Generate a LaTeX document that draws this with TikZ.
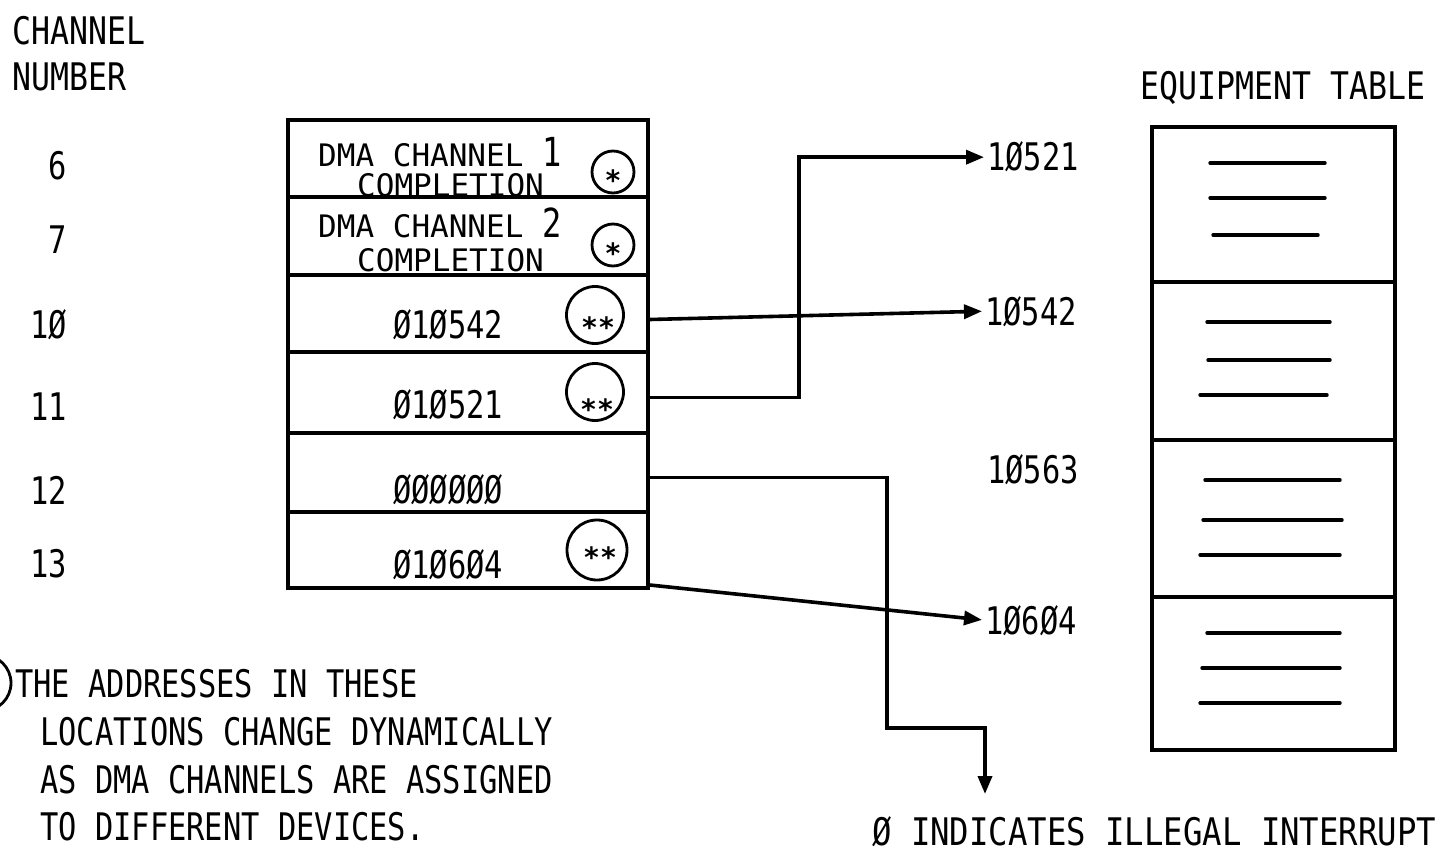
\documentclass[tikz,border=0pt]{standalone}
\usepackage{fontspec}
\usetikzlibrary{arrows.meta}
\newfontfamily\monoA[FakeStretch=0.80]{DejaVu Sans Mono}
\newfontfamily\monoH[FakeStretch=0.83]{DejaVu Sans Mono}
\newfontfamily\monoB[FakeStretch=1.0]{DejaVu Sans Mono}
\newfontfamily\monoC[FakeStretch=0.85]{DejaVu Sans Mono}
\newfontfamily\starfont{DejaVu Sans Mono Bold}
\begin{document}
\begin{tikzpicture}[x=1pt,y=-1pt,
  txt/.style={inner sep=0pt, font=\monoA\fontsize{38}{44}\selectfont},
  head/.style={inner sep=0pt, font=\monoH\fontsize{38}{44}\selectfont},
  small/.style={inner sep=0pt, font=\monoB\fontsize{31}{36}\selectfont},
  cell/.style={draw, line width=3.4pt, minimum width=360pt, inner sep=0pt},
  eqcell/.style={draw, line width=3.4pt, minimum width=243pt, inner sep=0pt},
  ring/.style={draw, circle, line width=2.8pt, inner sep=0pt},
  star/.style={inner sep=0pt, font=\starfont\fontsize{28}{28}\selectfont},
  conn/.style={line width=3.6pt, -{Triangle[length=18pt,width=14pt]}, shorten >=3pt},
  dash line/.style={line width=3.4pt, line cap=round}]
\useasboundingbox (0,0) rectangle (1435,853);
\fill[white] (0,0) rectangle (1435,853);

% headings
\node[head, anchor=base west] (hch) at (12,45) {CHANNEL};
\node[head, anchor=base west] (hnum) at (12,91) {NUMBER};
\node[head, anchor=base west] (heq) at (1140,100) {EQUIPMENT TABLE};

% channel numbers
\node[txt, anchor=base east] (n6) at (67,180) {6};
\node[txt, anchor=base east] (n7) at (67,254) {7};
\node[txt, anchor=base east] (n10) at (67,338) {1Ø};
\node[txt, anchor=base east] (n11) at (67,420) {11};
\node[txt, anchor=base east] (n12) at (67,504) {12};
\node[txt, anchor=base east] (n13) at (67,577) {13};

% interrupt table rows
\node[cell, minimum height=77pt] (r6) at (468,158.5) {};
\node[cell, minimum height=78pt] (r7) at (468,236) {};
\node[cell, minimum height=77pt] (r10) at (468,313.5) {};
\node[cell, minimum height=81pt] (r11) at (468,392.5) {};
\node[cell, minimum height=79pt] (r12) at (468,472.5) {};
\node[cell, minimum height=76pt] (r13) at (468,550) {};

% row contents
\node[small, anchor=base west] (d1a) at (318,167) {DMA CHANNEL {\monoA\fontsize{40}{40}\selectfont 1}};
\node[small, anchor=base west] (d1b) at (357,197) {COMPLETION};
\node[small, anchor=base west] (d2a) at (318,237) {DMA CHANNEL {\monoA\fontsize{40}{40}\selectfont 2}};
\node[small, anchor=base west] (d2b) at (357,272) {COMPLETION};
\node[txt, anchor=base west] (v10) at (393,338) {Ø1Ø542};
\node[txt, anchor=base west] (v11) at (393,418) {Ø1Ø521};
\node[txt, anchor=base west] (v12) at (393,503) {ØØØØØØ};
\node[txt, anchor=base west] (v13) at (393,578) {Ø1Ø6Ø4};

% circled marks
\node[ring, minimum size=42pt] (c6) at (613,172) {};
\node[star, anchor=base] (s6) at (613,191) {*};
\node[ring, minimum size=42pt] (c7) at (613,245) {};
\node[star, anchor=base] (s7) at (613,263) {*};
\node[ring, minimum size=57pt] (c10) at (595,315) {};
\node[star, anchor=base] (s10) at (598,337) {**};
\node[ring, minimum size=57pt] (c11) at (595,392) {};
\node[star, anchor=base] (s11) at (597,419) {**};
\node[ring, minimum size=60pt] (c13) at (597,550) {};
\node[star, anchor=base] (s13) at (600,567) {**};

% target addresses
\node[txt, anchor=base west] (t10521) at (987,171) {1Ø521};
\node[txt, anchor=base west] (t10542) at (985,325) {1Ø542};
\node[txt, anchor=base west] (t10563) at (987,483) {1Ø563};
\node[txt, anchor=base west] (t10604) at (985,634) {1Ø6Ø4};

% equipment table
\node[eqcell, minimum height=155pt] (e1) at (1273.5,204.5) {};
\node[eqcell, minimum height=158pt] (e2) at (1273.5,361) {};
\node[eqcell, minimum height=157pt] (e3) at (1273.5,518.5) {};
\node[eqcell, minimum height=153pt] (e4) at (1273.5,673.5) {};
\draw[dash line] (1210,163) -- (1325,163);
\draw[dash line] (1210,198) -- (1325,198);
\draw[dash line] (1213,235) -- (1318,235);
\draw[dash line] (1207,322) -- (1330,322);
\draw[dash line] (1208,360) -- (1330,360);
\draw[dash line] (1200,395) -- (1327,395);
\draw[dash line] (1205,480) -- (1340,480);
\draw[dash line] (1203,520) -- (1342,520);
\draw[dash line] (1200,555) -- (1340,555);
\draw[dash line] (1207,633) -- (1340,633);
\draw[dash line] (1202,668) -- (1340,668);
\draw[dash line] (1200,703) -- (1340,703);

% connectors
\coordinate (illegal) at (985,797);
\draw[conn] ([yshift=-6pt]r10.east) -- (t10542.west);
\draw[conn] ([yshift=-5pt]r11.east) -- ++(149,0) |- (t10521.west);
\draw[conn] ([yshift=-5pt]r12.east) -| (887,728) -| (illegal);
\draw[conn] ([yshift=-35pt]r13.east) -- (t10604.west);

% note
\node[ring, minimum size=56pt] (cnote) at (-17,683) {};
\node[txt, anchor=base west] (note1) at (15,697) {THE ADDRESSES IN THESE};
\node[txt, anchor=base west] (note2) at (40,745) {LOCATIONS CHANGE DYNAMICALLY};
\node[txt, anchor=base west] (note3) at (40,793) {AS DMA CHANNELS ARE ASSIGNED};
\node[txt, anchor=base west] (note4) at (40,840) {TO DIFFERENT DEVICES.};

\node[inner sep=0pt, anchor=base west, font=\monoC\fontsize{38}{44}\selectfont] (illtxt) at (872,845) {Ø INDICATES ILLEGAL INTERRUPT};
\end{tikzpicture}
\end{document}
